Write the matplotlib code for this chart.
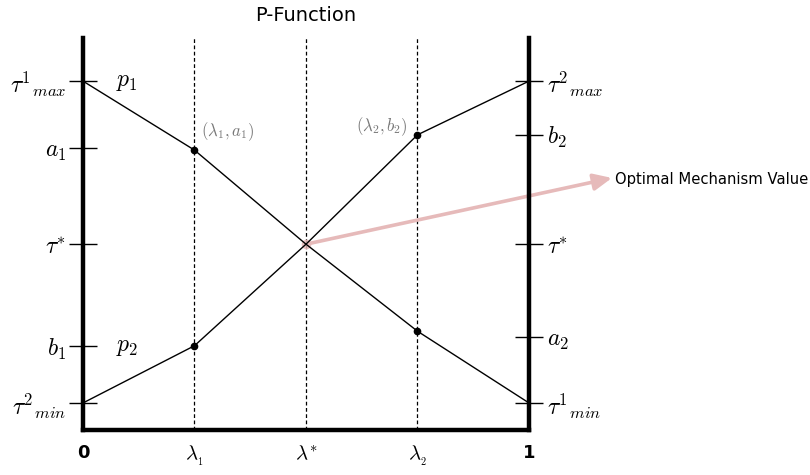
import matplotlib.pyplot as plt

plt.rcParams['mathtext.fontset'] = 'cm'
plt.rcParams['font.family'] = 'DejaVu Sans'

# data (unitless scale, 0 at bottom axis, 10 at top of axes)
lam = [0, 0.25, 0.5, 0.75, 1]
p1 = [8.9, 7.14, 4.74, 2.52, 0.69]
p2 = [0.69, 2.15, 4.74, 7.53, 8.9]
x_ticks = [0, 0.25, 0.5, 0.75, 1]
x_labels = ['0', r'$\lambda_{_1}$', r'$\lambda^{*}$', r'$\lambda_{_2}$', '1']
left_ticks = [8.9, 7.19, 4.74, 2.14, 0.69]
left_labels = [r'$\tau^{1}{}_{max}$', r'$a_1$', r'$\tau^{*}$', r'$b_1$', r'$\tau^{2}{}_{min}$']
right_ticks = [8.9, 7.53, 4.74, 2.37, 0.69]
right_labels = [r'$\tau^{2}{}_{max}$', r'$b_2$', r'$\tau^{*}$', r'$a_2$', r'$\tau^{1}{}_{min}$']
arrow_end = (1.186, 6.43)

fig = plt.figure(figsize=(8.1, 4.75), dpi=100)
ax = fig.add_axes([83 / 810, 45 / 475, 446 / 810, 392 / 475])
ax.set_xlim(0, 1)
ax.set_ylim(0, 10)

for xv in lam[1:4]:
    ax.axvline(xv, color='black', lw=0.9, ls=(0, (3, 2)), zorder=1)

ax.plot(lam, p1, color='black', lw=1, zorder=3)
ax.plot(lam, p2, color='black', lw=1, zorder=3)
ax.plot(lam[1], p1[1], 'o', color='black', ms=4.5, zorder=4)
ax.plot(lam[3], p1[3], 'o', color='black', ms=4.5, zorder=4)
ax.plot(lam[1], p2[1], 'o', color='black', ms=4.5, zorder=4)
ax.plot(lam[3], p2[3], 'o', color='black', ms=4.5, zorder=4)

ax.text(0.075, p1[0], r'$p_1$', fontsize=17, va='center', ha='left')
ax.text(0.075, p2[1], r'$p_2$', fontsize=17, va='center', ha='left')
ax.text(0.325, 7.6, r'$(\lambda_1, a_1)$', fontsize=12, color='#777777', ha='center', va='center')
ax.text(0.67, 7.75, r'$(\lambda_2, b_2)$', fontsize=12, color='#777777', ha='center', va='center')

# pink arrow from intersection to the note
ax.annotate('', xy=arrow_end, xytext=(lam[2], p1[2]), textcoords='data',
            annotation_clip=False,
            arrowprops=dict(arrowstyle='-|>,head_length=1.1,head_width=0.5',
                            color='#e6baba', lw=2.6, shrinkA=0, shrinkB=0),
            zorder=2)
ax.plot(lam[2], p1[2], 'o', color='#e6baba', ms=6, alpha=0.8, zorder=2)
ax.text(arrow_end[0] + 0.007, arrow_end[1] - 0.05, 'Optimal Mechanism Value',
        fontsize=10.6, va='center', ha='left', clip_on=False)

for side in ['left', 'right', 'bottom']:
    ax.spines[side].set_linewidth(3.2)
ax.spines['top'].set_visible(False)

ax.set_xticks(x_ticks)
ax.set_xticklabels(x_labels)
ax.tick_params(axis='x', length=0, pad=10, labelsize=15)
for lbl in ax.get_xticklabels():
    if lbl.get_text() in ('0', '1'):
        lbl.set_fontsize(13)
        lbl.set_fontweight('semibold')

ax.set_yticks(left_ticks)
ax.set_yticklabels(left_labels)
ax.tick_params(axis='y', direction='inout', length=20, width=1, labelsize=17, pad=2)

ax2 = ax.twinx()
ax2.set_ylim(0, 10)
ax2.set_yticks(right_ticks)
ax2.set_yticklabels(right_labels)
ax2.tick_params(axis='y', direction='inout', length=20, width=1, labelsize=17, pad=3)
for s in ax2.spines.values():
    s.set_visible(False)

ax.set_title('P-Function', fontsize=14, pad=12)

fig.savefig('out.png', dpi=100)
